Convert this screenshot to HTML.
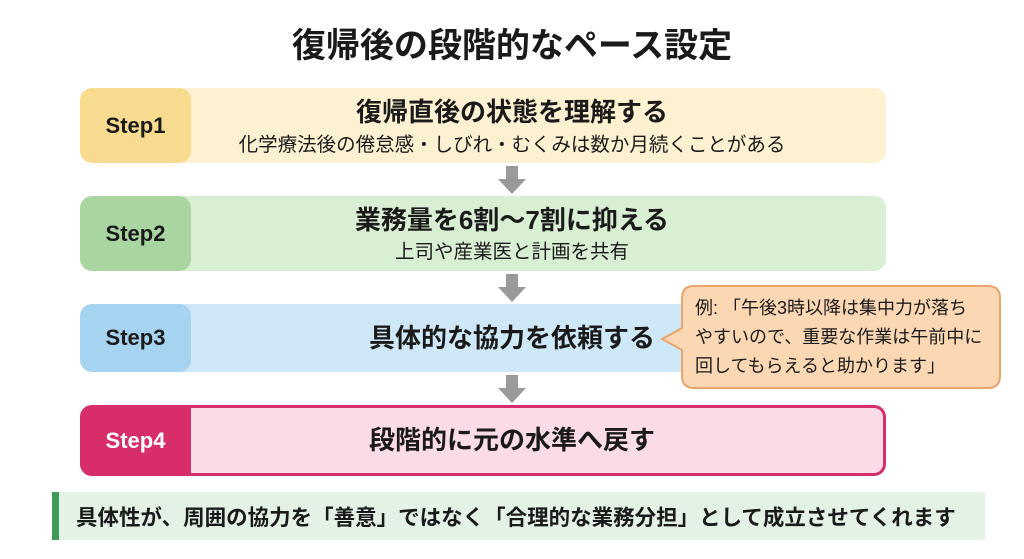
<!DOCTYPE html>
<html><head><meta charset="utf-8"><style>
body{margin:0;width:1024px;height:559px;background:#fff;position:relative;overflow:hidden;font-family:"Liberation Sans","Noto Sans CJK JP",sans-serif;color:#1a1a1a}
.a{position:absolute}
.title{left:0;width:1024px;top:23px;text-align:center;font-size:34px;font-weight:bold;line-height:46px}
.box{position:absolute;left:80px;width:806px;border-radius:12px;overflow:hidden}
.lab{position:absolute;left:0;top:0;bottom:0;width:111px;border-radius:12px;display:flex;align-items:center;justify-content:center;font-size:22px;font-weight:bold}
.c{position:absolute;left:0;width:1024px;text-align:center;white-space:nowrap}
.h{font-size:26px;font-weight:bold;line-height:32px}
.s{font-size:19.5px;line-height:26px}
</style></head><body>
<div class="a title">復帰後の段階的なペース設定</div>

<div class="box" style="top:88px;height:75px;background:#fdf1d2">
<div class="lab" style="background:#f8db8f">Step1</div></div>
<div class="box" style="top:196px;height:75px;background:#d9efd4">
<div class="lab" style="background:#a9d6a0">Step2</div></div>
<div class="box" style="top:304px;height:68px;width:610px;background:#cfe8f7">
<div class="lab" style="background:#a6d3ef">Step3</div></div>
<div class="box" style="top:405px;height:71px;background:#d72d6b">
<div class="lab" style="background:#d72d6b;color:#fff">Step4</div>
<div style="position:absolute;left:111px;right:3px;top:3px;bottom:3px;background:#fbdbe6;border-radius:0 9px 9px 0"></div></div>

<div class="c h" style="top:96px">復帰直後の状態を理解する</div>
<div class="c s" style="top:132px">化学療法後の倦怠感・しびれ・むくみは数か月続くことがある</div>
<div class="c h" style="top:204px">業務量を6割〜7割に抑える</div>
<div class="c s" style="top:239px">上司や産業医と計画を共有</div>
<div class="c h" style="top:322px">具体的な協力を依頼する</div>
<div class="c h" style="top:424px">段階的に元の水準へ戻す</div>

<svg class="a" style="left:0;top:0" width="1024" height="559">
<g fill="#9a9a9a">
<rect x="506" y="166" width="12" height="14"/><polygon points="498,179 526,179 512,194"/>
<rect x="506" y="274" width="12" height="14"/><polygon points="498,287 526,287 512,302"/>
<rect x="506" y="375" width="12" height="14"/><polygon points="498,388 526,388 512,403"/>
</g>
<path d="M694,286 H988 Q1000,286 1000,298 V376 Q1000,388 988,388 H694 Q682,388 682,376 V350 L662,339 L682,328 V298 Q682,286 694,286 Z" fill="#fbd8b3" stroke="#e9a56c" stroke-width="2"/>
<rect x="52" y="492" width="933" height="48" fill="#e4f2e6"/>
<rect x="52" y="492" width="7" height="48" fill="#3f9b55"/>
</svg>
<div class="a" style="left:695px;top:294px;font-size:18px;line-height:29px;white-space:nowrap">例: 「午後3時以降は集中力が落ち<br>やすいので、重要な作業は午前中に<br>回してもらえると助かります」</div>
<div class="a" style="left:76px;top:503px;font-size:21.5px;line-height:30px;font-weight:bold;white-space:nowrap">具体性が、周囲の協力を「善意」ではなく「合理的な業務分担」として成立させてくれます</div>
</body></html>
